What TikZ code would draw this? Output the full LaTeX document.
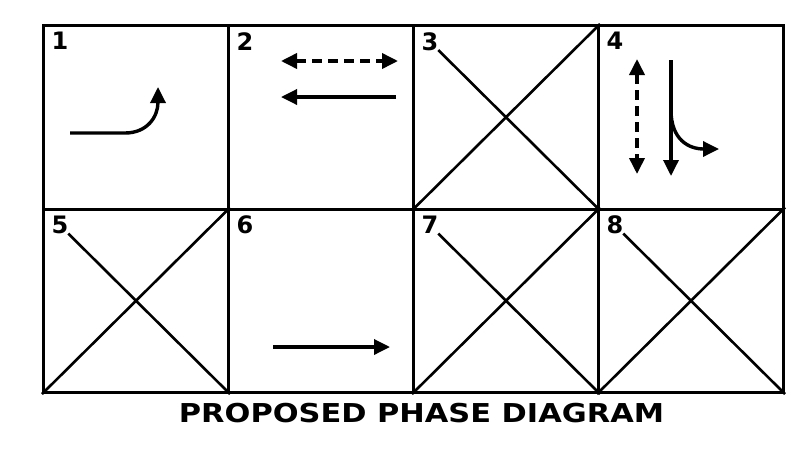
\documentclass[tikz,border=0pt]{standalone}
\usepackage{fontspec}
\setmainfont{DejaVu Sans}
\usetikzlibrary{calc,arrows.meta}

\begin{document}
\begin{tikzpicture}[x=0.5pt,y=-0.5pt,line width=1.5pt,
  cell/.style={draw,rectangle,inner sep=0,minimum width=92.5pt,minimum height=91.75pt,anchor=north west},
  num/.style={anchor=north west,inner sep=2pt,font=\fontsize{12}{13}\selectfont\bfseries},
  tip/.style={line width=1.7pt,-{Triangle[length=8pt,width=7.5pt]}},
  both/.style={line width=1.8pt,{Triangle[length=8pt,width=7.5pt]}-{Triangle[length=8pt,width=7.5pt]},dash pattern=on 5pt off 3pt},
  cross/.style={line width=1.3pt}]

  \useasboundingbox (0,0) rectangle (796,461);

  \foreach \n/\i/\j in {1/0/0,2/1/0,3/2/0,4/3/0,5/0/1,6/1/1,7/2/1,8/3/1}{
    \node[cell] at (42+185*\i, 24+183.5*\j) (c\n) {};
    \node[num] at ($(c\n.north west)+(4,3)$) {\n};
  }

  \foreach \n in {3,5,7,8}{
    \draw[cross] ($(c\n.north west)!0.14!(c\n.south east)$) -- (c\n.south east);
    \draw[cross] (c\n.south west) -- (c\n.north east);
  }

  \coordinate (a1) at (70,133);
  \coordinate (b1) at (158,87);
  \draw[tip] (a1) -- ++(55,0) .. controls +(22,0) and +(0,30) .. (b1);

  \coordinate (d2l) at (281,61);
  \coordinate (d2r) at (398,61);
  \coordinate (s2r) at (396,97);
  \coordinate (s2l) at (281,97);
  \draw[both] (d2l) -- (d2r);
  \draw[tip] (s2r) -- (s2l);

  \coordinate (d4t) at (637,59);
  \coordinate (d4b) at (637,174);
  \coordinate (s4t) at (671,60);
  \coordinate (s4b) at (671,176);
  \coordinate (k4) at (671,110);
  \coordinate (r4) at (719,149);
  \draw[both] (d4t) -- (d4b);
  \draw[tip] (s4t) -- (s4b);
  \draw[tip] (k4) .. controls +(0,30) and +(-30,0) .. (r4);

  \coordinate (a6) at (273,347);
  \coordinate (b6) at (390,347);
  \draw[tip] (a6) -- (b6);

  \node[anchor=base,inner sep=0] at (421.5,422) (title) {\fontsize{13}{15}\selectfont\bfseries\scalebox{1.17}[1]{PROPOSED PHASE DIAGRAM}};

\end{tikzpicture}
\end{document}
